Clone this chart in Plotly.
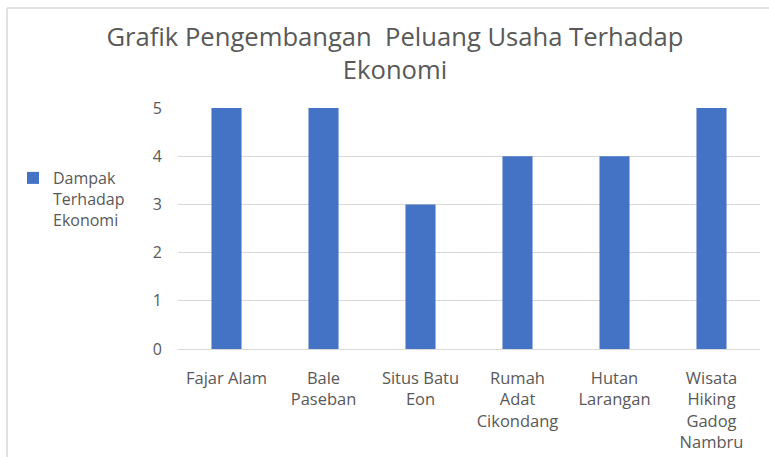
import plotly.graph_objects as go

categories = ["Fajar Alam", "Bale<br>Paseban", "Situs Batu<br>Eon", "Rumah<br>Adat<br>Cikondang",
              "Hutan<br>Larangan", "Wisata<br>Hiking<br>Gadog<br>Nambru"]
values = [5, 5, 3, 4, 4, 5]
series_name = "Dampak<br>Terhadap<br>Ekonomi"
y_ticks = [0, 1, 2, 3, 4, 5]

W, H = 769, 457
L, R, T, B = 178, 760, 108, 349
TXT = "#595959"
FONT = "Open Sans"

fig = go.Figure()
fig.add_trace(go.Bar(x=categories, y=values, name=series_name,
                     marker=dict(color="#4472C4", line=dict(width=0)),
                     showlegend=True))

def px_x(p):
    return (p - L) / (R - L)

def px_y(p):
    return (B - p) / (B - T)

fig.update_layout(
    width=W, height=H,
    margin=dict(l=L, r=W - R, t=T, b=H - B, autoexpand=False),
    paper_bgcolor="white", plot_bgcolor="white",
    font=dict(family=FONT, color=TXT, size=16),
    bargap=0.69,
    title=dict(text="Grafik Pengembangan  Peluang Usaha Terhadap<br>Ekonomi",
               x=px_x(395), xanchor="center", xref="paper",
               y=1 - 46 / H, yanchor="top",
               font=dict(family=FONT, size=25.6, color=TXT)),
    legend=dict(x=px_x(13), xanchor="left", y=px_y(161), yanchor="top",
                xref="paper", yref="paper", valign="top",
                font=dict(family=FONT, size=16, color=TXT),
                itemwidth=30, tracegroupgap=0),
    xaxis=dict(showgrid=False, showline=True, linecolor="#D9D9D9", linewidth=1,
               ticks="", ticklabelstandoff=14,
               tickfont=dict(family=FONT, size=16.5, color=TXT)),
    yaxis=dict(range=[0, 5], tickvals=y_ticks, showgrid=True, gridcolor="#D9D9D9",
               gridwidth=1, zeroline=False, showline=False, ticks="",
               ticklabelstandoff=15,
               tickfont=dict(family=FONT, size=16, color=TXT)),
    shapes=[
        dict(type="line", xref="paper", yref="paper", x0=px_x(7), x1=px_x(7),
             y0=px_y(8), y1=px_y(457), line=dict(color="#D9D9D9", width=1.5)),
        dict(type="line", xref="paper", yref="paper", x0=px_x(7), x1=px_x(769),
             y0=px_y(8), y1=px_y(8), line=dict(color="#D9D9D9", width=1.5)),
    ],
)

fig.write_html("out.html", config={"displayModeBar": False},
               post_script="document.body.style.margin='0';document.body.style.overflow='hidden';")
